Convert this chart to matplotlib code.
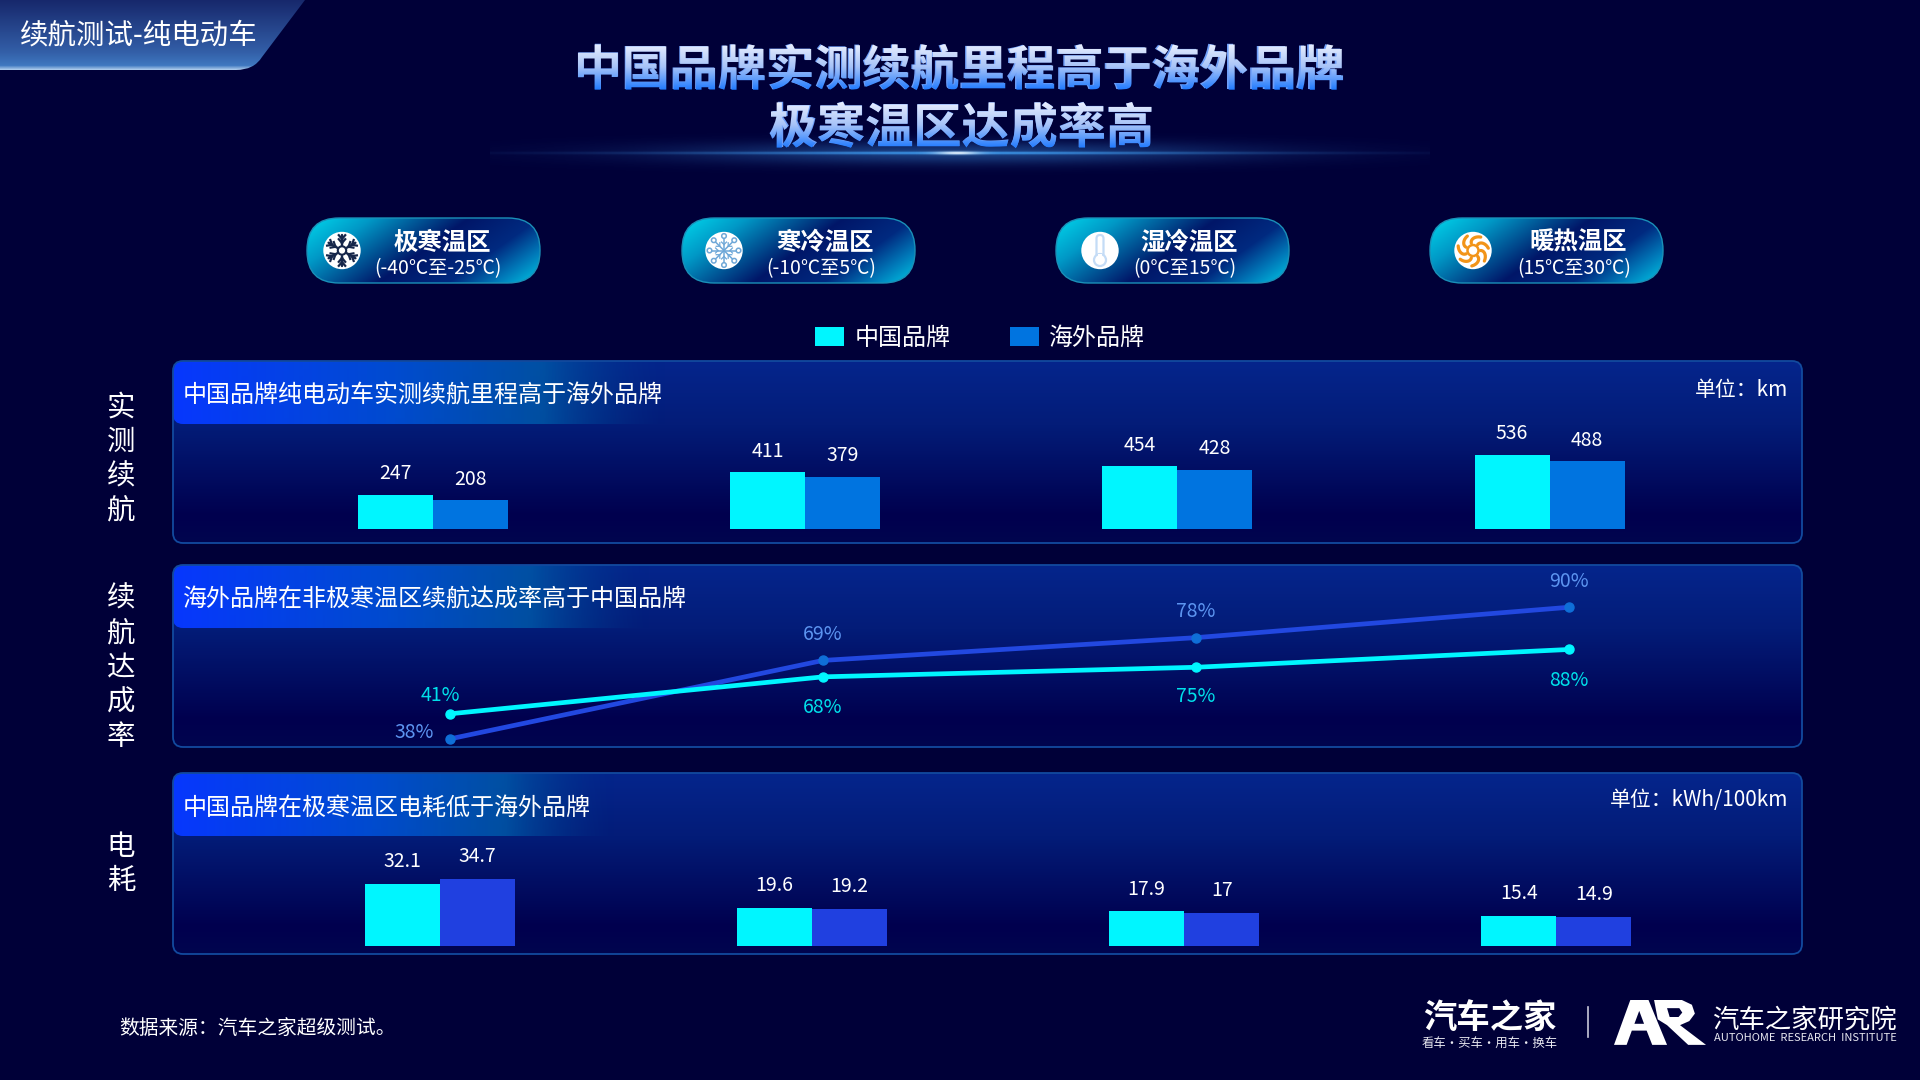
import numpy as np
import matplotlib
matplotlib.use('Agg')
import matplotlib.pyplot as plt
from matplotlib.colors import to_rgb
from matplotlib.patches import FancyBboxPatch, Rectangle, Circle, PathPatch, Polygon
from matplotlib.path import Path
from matplotlib.textpath import TextPath
from matplotlib.font_manager import FontProperties
from matplotlib.transforms import Affine2D

plt.rcParams['font.family'] = ['Noto Sans CJK SC', 'DejaVu Sans']

# data
zones = ['极寒温区', '寒冷温区', '湿冷温区', '暖热温区']
zone_ranges = ['(-40℃至-25℃)', '(-10℃至5℃)', '(0℃至15℃)', '(15℃至30℃)']
series_names = ['中国品牌', '海外品牌']

range_cn = [247, 411, 454, 536]
range_os = [208, 379, 428, 488]
rate_cn = [41, 68, 75, 88]
rate_os = [38, 69, 78, 90]
power_cn = [32.1, 19.6, 17.9, 15.4]
power_os = [34.7, 19.2, 17, 14.9]

panel_titles = ['中国品牌纯电动车实测续航里程高于海外品牌',
                '海外品牌在非极寒温区续航达成率高于中国品牌',
                '中国品牌在极寒温区电耗低于海外品牌']
side_labels = ['实测续航', '续航达成率', '电耗']

BG = '#000038'
CYAN = '#00f6ff'
BLUE1 = '#0074e0'
BLUE2 = '#2040e0'
W, H = 1920, 1080

fig = plt.figure(figsize=(19.2, 10.8), dpi=100, facecolor=BG)
bg = fig.add_axes([0, 0, 1, 1], zorder=0)
bg.set_xlim(0, W)
bg.set_ylim(H, 0)
bg.set_axis_off()


def grad_image(ax, x0, y0, x1, y1, rgba, clip=None, zorder=1):
    im = ax.imshow(rgba, extent=(x0, x1, y1, y0), aspect='auto', zorder=zorder,
                   interpolation='bilinear')
    if clip is not None:
        im.set_clip_path(clip)
    ax.set_xlim(0, W)
    ax.set_ylim(H, 0)
    return im


def vstops(n, stops):
    # colour ramp from (pos, colour) stops
    pos = [s[0] for s in stops]
    cols = np.array([to_rgb(s[1]) for s in stops])
    t = np.linspace(0, 1, n)
    return np.stack([np.interp(t, pos, cols[:, i]) for i in range(3)], axis=1)


def round_box(x0, y0, x1, y1, r, **kw):
    return FancyBboxPatch((x0 + r, y0 + r), x1 - x0 - 2 * r, y1 - y0 - 2 * r,
                          boxstyle='round,pad=%f,rounding_size=%f' % (r, r), **kw)


def chart_axes(x0, y0, x1, y1):
    ax = fig.add_axes([x0 / W, 1 - y1 / H, (x1 - x0) / W, (y1 - y0) / H], zorder=3)
    ax.patch.set_alpha(0)
    ax.set_axis_off()
    return ax


# top-left tab
verts = [(0, 0), (305, 0), (262, 57), (254, 70), (236, 70), (0, 70), (0, 0)]
codes = [Path.MOVETO, Path.LINETO, Path.LINETO, Path.CURVE3, Path.CURVE3, Path.LINETO, Path.CLOSEPOLY]
tab = PathPatch(Path(verts, codes), fc='none', ec='none', transform=bg.transData)
bg.add_patch(tab)
col = vstops(70, [(0, '#17286c'), (0.75, '#335fa8'), (0.94, '#3f78c0'), (1, '#a8c8ea')])
grad_image(bg, 0, 0, 305, 70, col[:, None, :], clip=tab)
bg.text(20, 35.5, '续航测试-纯电动车', color='white', fontsize=20.5, va='center', ha='left', zorder=5)

# title with vertical gradient fill
title_lines = ['中国品牌实测续航里程高于海外品牌', '极寒温区达成率高']
title_cy = [67, 125]
fp = FontProperties(family='Noto Sans CJK SC', weight='bold')
title_pt = 34.7
title_col = vstops(50, [(0, '#eef2ff'), (0.5, '#a8c4f8'), (1, '#1c78ff')])
for s, cy in zip(title_lines, title_cy):
    tp = TextPath((0, 0), s, size=title_pt * 100 / 72, prop=fp)
    bb = tp.get_extents()
    x0 = 960.5 - (bb.x0 + bb.x1) / 2
    base = cy + (bb.y0 + bb.y1) / 2
    bg.text(x0, base, s, color='#6f9ff8', fontsize=title_pt, fontweight='bold',
            ha='left', va='baseline', zorder=5)
    clip = PathPatch(tp, transform=Affine2D().scale(1, -1).translate(x0, base) + bg.transData,
                     fc='none', ec='none')
    bg.add_patch(clip)
    grad_image(bg, x0 + bb.x0 - 2, base - bb.y1 - 1, x0 + bb.x1 + 2, base - bb.y0 + 1,
               title_col[:, None, :], clip=clip, zorder=6)

# glow under the title
gx = np.linspace(-1, 1, 500)
gy = np.linspace(-1, 1, 50)
xx, yy = np.meshgrid(gx, gy)
glow = np.zeros((50, 500, 4))
glow[..., :3] = to_rgb('#3f9cf0')
glow[..., 3] = 0.4 * np.exp(-(xx / 0.6) ** 2) * np.exp(-(yy / 0.45) ** 2) \
    + 0.55 * np.exp(-(xx / 0.65) ** 2) * np.exp(-(yy / 0.06) ** 2)
grad_image(bg, 490, 128, 1430, 178, glow, zorder=2)
core = np.zeros((10, 200, 4))
core[..., :3] = 1
cx, cy_ = np.meshgrid(np.linspace(-1, 1, 200), np.linspace(-1, 1, 10))
core[..., 3] = 0.85 * np.exp(-(cx / 0.5) ** 2) * np.exp(-(cy_ / 0.35) ** 2)
grad_image(bg, 915, 148, 1000, 158, core, zorder=3)

# zone pills
pill_left = [307, 682, 1056, 1430]
pill_w, pill_top, pill_bot = 233, 218, 283
name_cx = [442, 825, 1189, 1578]
range_cx = [438, 821, 1185, 1574.5]
icon_cx = [342, 724, 1100, 1473]
u, v = np.meshgrid(np.linspace(0, 1, 233), np.linspace(0, 1, 65))
tt = 0.72 * u + 0.28 * v
stops_pos = [0, 0.2, 0.5, 0.72, 0.86, 1]
stops_col = np.array([to_rgb(c) for c in ['#00d6ec', '#0098c6', '#001668', '#002a80', '#0078b8', '#00c8e6']])
pill_rgb = np.stack([np.interp(tt, stops_pos, stops_col[:, i]) for i in range(3)], axis=2)
for i in range(4):
    x0 = pill_left[i]
    pill = round_box(x0, pill_top, x0 + pill_w, pill_bot, 32, fc='none', ec='#1a90b8', lw=1.0, zorder=3)
    bg.add_patch(pill)
    grad_image(bg, x0, pill_top, x0 + pill_w, pill_bot, pill_rgb, clip=pill, zorder=2)
    bg.text(name_cx[i], 243, zones[i], color='white', fontsize=17.6, fontweight='bold',
            ha='center', va='center', zorder=5)
    bg.text(range_cx[i], 269, zone_ranges[i], color='white', fontsize=13.9,
            ha='center', va='center', zorder=5)
    bg.add_patch(Circle((icon_cx[i], 250.5), 18.7, fc='white', ec='none', zorder=4))


def arm(cx, cy, a, r0, r1, **kw):
    bg.plot([cx + r0 * np.cos(a), cx + r1 * np.cos(a)], [cy + r0 * np.sin(a), cy + r1 * np.sin(a)],
            solid_capstyle='round', zorder=5, **kw)


# icon 1: dark snowflake
c1 = '#16264a'
for k in range(6):
    a = np.pi / 6 + k * np.pi / 3
    arm(342, 250.5, a, 5, 15.5, color=c1, lw=1.7)
    for d, r in [(0.7, 11.5), (0.7, 7.5)]:
        px, py = 342 + r * np.cos(a), 250.5 + r * np.sin(a)
        for s in (-1, 1):
            bg.plot([px, px + 5 * np.cos(a + s * d)], [py, py + 5 * np.sin(a + s * d)],
                    color=c1, lw=1.6, zorder=5)
bg.add_patch(Circle((342, 250.5), 4.2, fc='white', ec=c1, lw=1.5, zorder=5))

# icon 2: light blue flake with dots
c2 = '#6fa8d8'
for k in range(8):
    a = k * np.pi / 4
    arm(724, 250.5, a, 0, 13, color=c2, lw=1.1)
    bg.add_patch(Circle((724 + 14.5 * np.cos(a), 250.5 + 14.5 * np.sin(a)), 2.3, fc='white', ec=c2, lw=1.1, zorder=5))
    for s in (-1, 1):
        px, py = 724 + 6 * np.cos(a), 250.5 + 6 * np.sin(a)
        bg.plot([px, px + 3.5 * np.cos(a + s * 0.8)], [py, py + 3.5 * np.sin(a + s * 0.8)],
                color=c2, lw=0.9, zorder=5)

# icon 3: thermometer
c3 = '#c4dcf6'
bg.add_patch(round_box(1096.5, 235, 1103.5, 260, 3.5, fc='white', ec=c3, lw=1.6, zorder=5))
bg.add_patch(Circle((1100, 260), 6, fc='white', ec=c3, lw=1.6, zorder=5))
bg.add_patch(Rectangle((1097.6, 254), 4.8, 7, fc='white', ec='none', zorder=6))

# icon 4: sun with swirling blades
c4 = '#f29418'
bg.add_patch(Circle((1473, 250.5), 5.5, fc='white', ec=c4, lw=1.8, zorder=5))
for k in range(7):
    a0 = k * 2 * np.pi / 7
    t = np.linspace(0, 1, 12)
    rr = 7.5 + 8 * t
    aa = a0 + 0.75 * t ** 2
    bg.plot(1473 + rr * np.cos(aa), 250.5 + rr * np.sin(aa), color=c4, lw=2.3,
            solid_capstyle='round', zorder=5)

# legend
for x0, c, name, tx in [(815, CYAN, series_names[0], 855), (1010, BLUE1, series_names[1], 1049)]:
    bg.add_patch(Rectangle((x0, 327), 29, 19, fc=c, ec='none', zorder=4))
    bg.text(tx, 337.5, name, color='white', fontsize=17.3, ha='left', va='center', zorder=5)

# panels
panel_box = [(173, 361, 1802, 543), (173, 565, 1802, 747), (173, 773, 1802, 954)]
header_end = [666, 650, 615]
side_y = [459, 668, 864]
panel_col = vstops(180, [(0, '#05258c'), (0.35, '#031c78'), (0.85, '#00004e'), (1, '#00054f')])
for i, (x0, y0, x1, y1) in enumerate(panel_box):
    p = round_box(x0, y0, x1, y1, 10, fc='none', ec='#124a9e', lw=1.3, zorder=3)
    bg.add_patch(p)
    grad_image(bg, x0, y0, x1, y1, panel_col[:, None, :], clip=p, zorder=1)
    hd = np.zeros((2, 300, 4))
    hd[..., :3] = vstops(300, [(0, '#0838ff'), (0.45, '#0050d8'), (0.75, '#0058a8'), (1, '#003088')])
    hd[..., 3] = np.interp(np.linspace(0, 1, 300), [0, 0.75, 1], [1, 0.85, 0])
    hclip = round_box(x0, y0, header_end[i] + 20, y0 + 63, 10, fc='none', ec='none')
    bg.add_patch(hclip)
    grad_image(bg, x0, y0, header_end[i], y0 + 63, hd, clip=hclip, zorder=2)
    bg.text(183, y0 + 34.5, panel_titles[i], color='white', fontsize=17.3, ha='left', va='center', zorder=5)
    bg.text(121, side_y[i], '\n'.join(side_labels[i]), color='white', fontsize=20.5, ha='center',
            va='center', linespacing=1.2, zorder=5)

bg.text(1788, 389.5, '单位：km', color='white', fontsize=15, ha='right', va='center', zorder=5)
bg.text(1788, 799.5, '单位：kWh/100km', color='white', fontsize=15, ha='right', va='center', zorder=5)

# bars: axes placed on the panels, groups every 372.3 px
cats = np.arange(4)
bw = 75 / 372.3


def bar_panel(x_first, base_y, top_y, px_per_unit, v1, v2, c2, lift):
    ax = chart_axes(173, top_y, 1802, base_y)
    ax.set_xlim((173 - x_first) / 372.3, (1802 - x_first) / 372.3)
    ax.set_ylim(0, (base_y - top_y) / px_per_unit)
    b1 = ax.bar(cats - bw / 2, v1, bw, color=CYAN)
    b2 = ax.bar(cats + bw / 2, v2, bw, color=c2)
    for bars, vals in [(b1, v1), (b2, v2)]:
        for r, val in zip(bars, vals):
            ax.annotate(str(val), (r.get_x() + bw / 2, val), xytext=(0, lift), textcoords='offset pixels',
                        color='white', fontsize=14, ha='center', va='center', annotation_clip=False)
    return ax


bar_panel(432.6, 529, 361, 0.1385, range_cn, range_os, BLUE1, 21)
bar_panel(439.5, 945.7, 773, 1.93, power_cn, power_os, BLUE2, 22)

# lines: each series has its own y scale in the source
def line_panel(vals, ylim, line_c, mark_c, text_c, offs, z):
    ax = chart_axes(173, 566, 1802, 748)
    ax.set_zorder(z)
    ax.set_xlim((173 - 450) / 373, (1802 - 450) / 373)
    ax.set_ylim(*ylim)
    ax.plot(cats, vals, color=line_c, lw=3.4, solid_capstyle='round')
    ax.plot(cats, vals, ls='none', marker='o', ms=6.5, mfc=mark_c, mec=mark_c)
    for c, val, off in zip(cats, vals, offs):
        ax.annotate('%d%%' % val, (c, val), xytext=off, textcoords='offset pixels', color=text_c,
                    fontsize=14, ha='center', va='center', annotation_clip=False)


line_panel(rate_os, (34.4, 106.3), '#2248e0', '#0f6fd8', '#5c94f0',
           [(-36, 6), (0, 26), (0, 26), (0, 26)], 3)
line_panel(rate_cn, (16, 149), CYAN, CYAN, '#00e0ea',
           [(-10, 18), (0, -31), (0, -29), (0, -31)], 4)

# footer
bg.text(119, 1028, '数据来源：汽车之家超级测试。', color='white', fontsize=14.2, ha='left', va='center', zorder=5)
bg.text(1490, 1018, '汽车之家', color='white', fontsize=24, fontweight='bold', ha='center', va='center', zorder=5)
bg.text(1490, 1043, '看车·买车·用车·换车', color='#e8e8f0', fontsize=8.9, ha='center', va='center', zorder=5)
bg.plot([1588, 1588], [1007, 1037], color='#c8c8d8', lw=1.2, zorder=5)
bg.text(1804, 1020, '汽车之家研究院', color='white', fontsize=19, ha='center', va='center', zorder=5)
bg.text(1805, 1038, 'AUTOHOME  RESEARCH  INSTITUTE', color='#e8e8f0', fontsize=8, ha='center', va='center', zorder=5)


def logo_pts(pts):
    return [(1614 + (a - 62) * 0.371, 1000 + (b - 18) * 0.34) for a, b in pts]


bg.add_patch(Polygon(logo_pts([(62, 150), (106, 18), (155, 18), (205, 150), (165, 150), (150, 108),
                               (110, 108), (96, 150)]), fc='white', ec='none', zorder=5))
bg.add_patch(Polygon(logo_pts([(117, 88), (143, 88), (130, 50)]), fc=BG, ec='none', zorder=6))
bg.add_patch(Polygon(logo_pts([(170, 18), (245, 18), (272, 32), (280, 58), (265, 80), (240, 92),
                               (310, 150), (262, 150), (205, 92), (180, 75)]), fc='white', ec='none', zorder=5))
bg.add_patch(Polygon(logo_pts([(205, 42), (238, 42), (246, 55), (236, 68), (212, 68)]), fc=BG, ec='none', zorder=6))

fig.savefig('out.png', dpi=100, facecolor=BG)
